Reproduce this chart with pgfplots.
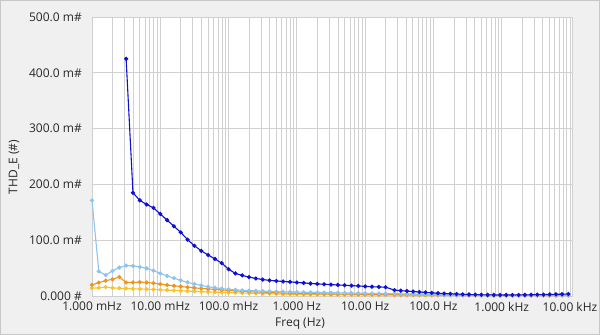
\documentclass[border=0pt]{standalone}
\usepackage{fontspec}
\setmainfont{Open Sans}
\usepackage{pgfplots}
\usepackage{pgfplotstable}
\pgfplotsset{compat=1.18}
\definecolor{bggray}{RGB}{240,240,240}
\definecolor{framec}{RGB}{200,200,200}
\definecolor{gridc}{RGB}{208,208,208}
\definecolor{txt}{RGB}{40,40,40}
\definecolor{dblue}{RGB}{16,16,208}
\definecolor{lblue}{RGB}{140,196,240}
\definecolor{orng}{RGB}{242,146,28}
\definecolor{yell}{RGB}{248,196,40}

\pgfplotstableread{
f db lb or ye
1.000e-3 nan 171.5 20 14
1.259e-3 nan 44 24 14.6
1.585e-3 nan 37.5 27.5 16
1.995e-3 nan 45 30 14.5
2.512e-3 nan 51 34 14
3.162e-3 425 54.5 24.3 13.5
3.981e-3 185 54 24.3 13
5.012e-3 171.5 52 24.8 12.6
6.310e-3 164 49.5 24.3 12.2
7.943e-3 158 45.5 23 11.7
1.000e-2 147 40.5 21.3 11.2
1.259e-2 136 36 19.8 10.6
1.585e-2 125 32 18.3 10.0
1.995e-2 114 28 17 9.4
2.512e-2 101 24.5 15.8 8.8
3.162e-2 90 21.5 14.6 8.3
3.981e-2 81 19 13.5 7.8
5.012e-2 73.5 16.5 12.6 7.3
6.310e-2 66.5 14.8 11.8 6.9
7.943e-2 59 13.2 11 6.5
0.1000 48 12 10 6.1
0.1259 40.5 11 9.2 5.7
0.1585 37 10.2 8.5 5.3
0.1995 33.8 9.6 7.8 5.0
0.2512 31.5 9.2 7.2 4.7
0.3162 29.5 8.8 6.7 4.4
0.3981 28 8.4 6.2 4.1
0.5012 27 8.0 5.8 3.8
0.6310 26 7.6 5.4 3.5
0.7943 25.2 7.3 5.0 3.2
1.000 24.3 7.0 4.7 3.0
1.259 23.4 6.7 4.4 2.8
1.585 22.4 6.5 4.2 2.7
1.995 21.7 6.3 4.0 2.6
2.512 21.0 6.1 3.8 2.5
3.162 20.4 5.9 3.6 2.4
3.981 19.8 5.7 3.4 2.3
5.012 19.2 5.5 3.3 2.2
6.310 18.6 5.3 3.2 2.1
7.943 18.0 5.1 3.1 2.0
10.00 17.2 4.9 3.0 1.9
12.59 16.6 4.7 2.9 1.8
15.85 16.2 4.5 2.8 1.7
19.95 15.8 4.3 2.7 1.6
26.92 10.5 4.1 2.6 1.5
33.18 9.6 3.9 2.5 1.45
40.91 8.8 3.7 2.4 1.4
50.43 8.0 3.5 2.3 1.35
62.18 7.2 3.3 2.2 1.3
76.65 6.4 3.1 2.1 1.25
94.51 5.7 2.9 2.0 1.2
116.5 5.0 2.7 1.9 1.15
143.7 4.4 2.5 1.8 1.1
177.1 3.9 2.3 1.7 1.05
218.4 3.4 2.1 1.6 1.0
269.2 3.0 1.9 1.5 0.95
331.8 2.7 1.7 1.4 0.9
409.1 2.4 1.5 1.3 0.85
504.3 2.2 1.4 1.2 0.8
621.8 2.0 1.3 1.1 0.8
766.5 1.9 1.2 1.0 0.8
945.1 1.8 1.1 1.0 0.8
1165 1.8 1.1 1.0 0.8
1437 1.8 1.1 1.0 0.8
1771 1.9 1.1 1.0 0.8
2184 2.0 1.2 1.0 0.8
2692 2.2 1.3 1.0 0.8
3318 2.4 1.4 1.0 0.8
4091 2.6 1.5 1.0 0.8
5043 2.8 1.6 1.0 0.8
6218 3.0 1.7 1.0 0.8
7665 3.3 1.8 1.0 0.8
9451 3.6 1.9 1.0 0.8
}\datatable

\begin{document}
\begin{tikzpicture}
\useasboundingbox (0,0) rectangle (600bp,335bp);
\fill[bggray] (0,0) rectangle (600bp,335bp);
\draw[framec, line width=1bp] (0.5bp,0.5bp) rectangle (599.5bp,334.5bp);
\begin{axis}[
  at={(92bp,39bp)}, anchor=south west,
  scale only axis, width=480bp, height=279bp,
  xmode=log, xmin=1e-3, xmax=1.07e4, ymin=0, ymax=500,
  xtick={1e-3,1e-2,1e-1,1,10,100,1000,10000},
  xticklabels={1.000 mHz,10.00 mHz,100.0 mHz,1.000 Hz,10.00 Hz,100.0 Hz,1.000 kHz,10.00 kHz},
  minor xtick={2e-3,3e-3,4e-3,5e-3,6e-3,7e-3,8e-3,9e-3,
    2e-2,3e-2,4e-2,5e-2,6e-2,7e-2,8e-2,9e-2,
    0.2,0.3,0.4,0.5,0.6,0.7,0.8,0.9,
    2,3,4,5,6,7,8,9,
    20,30,40,50,60,70,80,90,
    200,300,400,500,600,700,800,900,
    2000,3000,4000,5000,6000,7000,8000,9000},
  ytick={0,100,200,300,400,500},
  yticklabels={0.000 \#,100.0 m\#,200.0 m\#,300.0 m\#,400.0 m\#,500.0 m\#},
  xmajorgrids, xminorgrids, ymajorgrids,
  major grid style={draw=gridc, line width=0.8bp},
  minor grid style={draw=gridc, line width=0.8bp},
  axis line style={draw=gridc, line width=0.8bp},
  major tick length=0pt, minor tick length=0pt,
  tick label style={font=\fontsize{12bp}{14bp}\selectfont, text=txt},
  x tick label style={inner sep=0pt, anchor=north, yshift=-6bp},
  y tick label style={inner sep=0pt, anchor=east, xshift=-10bp},
  axis background/.style={fill=white},
  every axis plot/.append style={line width=1.1bp, mark=*, mark size=1.5bp},
]
\addplot[yell, mark options={fill=yell, draw=yell}] table[x=f, y=ye] {\datatable};
\addplot[orng, mark options={fill=orng, draw=orng}] table[x=f, y=or] {\datatable};
\addplot[lblue, mark options={fill=lblue, draw=lblue}] table[x=f, y=lb] {\datatable};
\addplot[dblue, mark options={fill=dblue, draw=dblue}] table[x=f, y=db] {\datatable};
\end{axis}
\node[rotate=90, text=txt, font=\fontsize{12bp}{14bp}\selectfont] at (14bp,168bp) {THD\_E (\#)};
\node[text=txt, font=\fontsize{12bp}{14bp}\selectfont] at (300bp,11bp) {Freq (Hz)};
\end{tikzpicture}
\end{document}
